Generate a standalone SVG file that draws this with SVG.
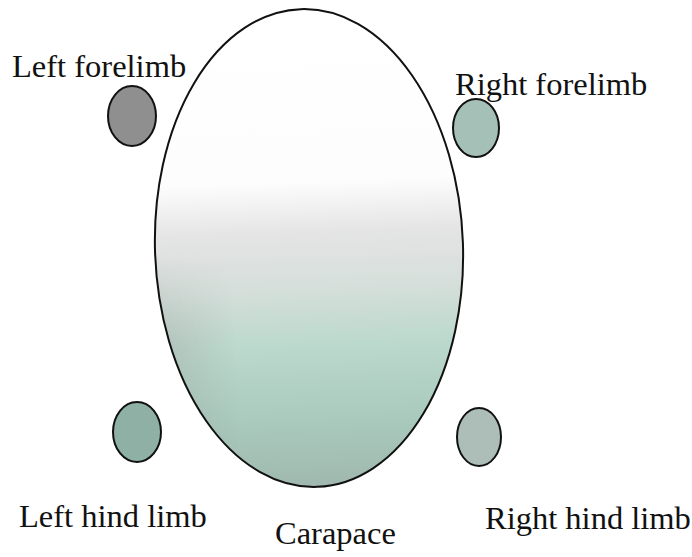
<svg xmlns="http://www.w3.org/2000/svg" width="692" height="557" viewBox="0 0 692 557">
<defs>
<linearGradient id="shell" x1="0" y1="0" x2="0" y2="1">
<stop offset="0" stop-color="#ffffff"/>
<stop offset="0.36" stop-color="#fdfdfd"/>
<stop offset="0.47" stop-color="#e4e4e4"/>
<stop offset="0.58" stop-color="#d6dfdb"/>
<stop offset="0.7" stop-color="#bcd9cd"/>
<stop offset="0.85" stop-color="#aacbbe"/>
<stop offset="1" stop-color="#a0b8af"/>
</linearGradient>
<linearGradient id="side" x1="0" y1="0" x2="1" y2="0">
<stop offset="0" stop-color="#9a9a9a" stop-opacity="0.35"/>
<stop offset="0.25" stop-color="#9a9a9a" stop-opacity="0"/>
<stop offset="1" stop-color="#9a9a9a" stop-opacity="0"/>
</linearGradient>
<linearGradient id="fade" x1="0" y1="0" x2="0" y2="1">
<stop offset="0.45" stop-color="#fff" stop-opacity="0"/>
<stop offset="0.6" stop-color="#fff" stop-opacity="1"/>
</linearGradient>
<mask id="lower">
<rect x="0" y="0" width="692" height="557" fill="url(#fade)"/>
</mask>
<style>
.lbl{font-family:"Liberation Serif","Times New Roman",serif;font-size:32.5px;fill:#111;}
.limb{stroke:#111;stroke-width:2;}
</style>
</defs>
<rect width="692" height="557" fill="#ffffff"/>
<g id="carapace">
<g transform="rotate(-2 309 248)">
<ellipse cx="309" cy="248" rx="154" ry="239" fill="url(#shell)"/>
<ellipse cx="309" cy="248" rx="154" ry="239" fill="url(#side)" mask="url(#lower)"/>
<ellipse cx="309" cy="248" rx="154" ry="239" fill="none" stroke="#111" stroke-width="2"/>
</g>
<text class="lbl" x="275" y="544">Carapace</text>
</g>
<g id="left-forelimb">
<ellipse class="limb" cx="132" cy="116" rx="24" ry="30" fill="#8f8f8f"/>
<text class="lbl" x="12" y="77">Left forelimb</text>
</g>
<g id="right-forelimb">
<ellipse class="limb" cx="476" cy="128" rx="23" ry="29" fill="#a5c0b6"/>
<text class="lbl" x="455" y="95">Right forelimb</text>
</g>
<g id="left-hind-limb">
<ellipse class="limb" cx="137" cy="432" rx="24" ry="30" fill="#8fb0a4"/>
<text class="lbl" x="19" y="527">Left hind limb</text>
</g>
<g id="right-hind-limb">
<ellipse class="limb" cx="479" cy="437" rx="22" ry="29" fill="#acbeb7"/>
<text class="lbl" x="485" y="529">Right hind limb</text>
</g>
<g id="connectors"/>
</svg>
